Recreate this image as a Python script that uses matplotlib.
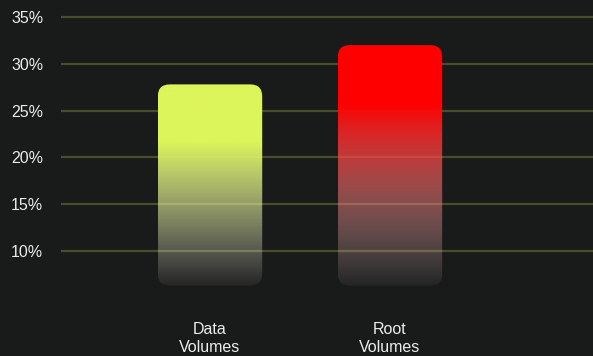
import matplotlib.pyplot as plt
import numpy as np
from matplotlib.colors import to_rgb
from matplotlib.patches import FancyBboxPatch

categories = ['Data\nVolumes', 'Root\nVolumes']
values = [27.8, 32.0]
colors = ['#dcf55a', '#ff0000']
yticks = [10, 15, 20, 25, 30, 35]

bg = '#191a1a'
base = 6.3
ymin, ymax = 5.0, 36.0
xmin, xmax = -0.828, 2.128
bar_w = 0.58
solid_len = 6.2   # height kept at full colour below each bar top
fade_end = 0.95

plt.rcParams['font.family'] = ['Liberation Sans', 'DejaVu Sans']

fig = plt.figure(figsize=(5.93, 3.56), dpi=100, facecolor=bg)
W, H = 593, 356
# axes placed in pixels: 35% line at y=17, 1% = 9.36 px
top_px = 17 - (ymax - 35) * 9.36
h_px = (ymax - ymin) * 9.36
ax = fig.add_axes([61 / W, 1 - (top_px + h_px) / H, 532 / W, h_px / H])
ax.set_facecolor(bg)
ax.set_xlim(xmin, xmax)
ax.set_ylim(ymin, ymax)

for s in ax.spines.values():
    s.set_visible(False)
ax.set_yticks(yticks)
ax.set_yticklabels([f'{t}%' for t in yticks])
ax.tick_params(axis='y', length=0, pad=12.8, labelsize=11.5, labelcolor='#ececec')
ax.set_xticks(range(len(categories)))
ax.set_xticklabels(categories, linespacing=1.2)
ax.tick_params(axis='x', length=0, pad=17.5, labelsize=11.5, labelcolor='#ececec')
ax.grid(axis='y', color='#4a4d2c', linewidth=1.6, zorder=0)
ax.set_axisbelow(True)

px_x = 532 / (xmax - xmin)
px_y = 9.36
radius = 12 / px_x

for i, (v, c) in enumerate(zip(values, colors)):
    n = 256
    y = np.linspace(base, v, n)
    start = v - solid_len
    # s: 0 = full colour, 1 = transparent white
    s = np.clip((start - y) / (start - base), 0, 1) * fade_end
    rgb = np.array(to_rgb(c))
    img = np.zeros((n, 1, 4))
    img[:, 0, :3] = rgb + (1 - rgb) * s[:, None]
    img[:, 0, 3] = 1 - s
    x0 = i - bar_w / 2
    patch = FancyBboxPatch((x0, base), bar_w, v - base,
                           boxstyle=f'round,pad=0,rounding_size={radius}',
                           mutation_aspect=px_x / px_y,
                           facecolor='none', edgecolor='none')
    ax.add_patch(patch)
    im = ax.imshow(img, extent=[x0, x0 + bar_w, base, v], origin='lower',
                   aspect='auto', zorder=2, interpolation='bilinear')
    im.set_clip_path(patch)

ax.set_xlim(xmin, xmax)
ax.set_ylim(ymin, ymax)

fig.savefig('out.png', dpi=100, facecolor=bg)
